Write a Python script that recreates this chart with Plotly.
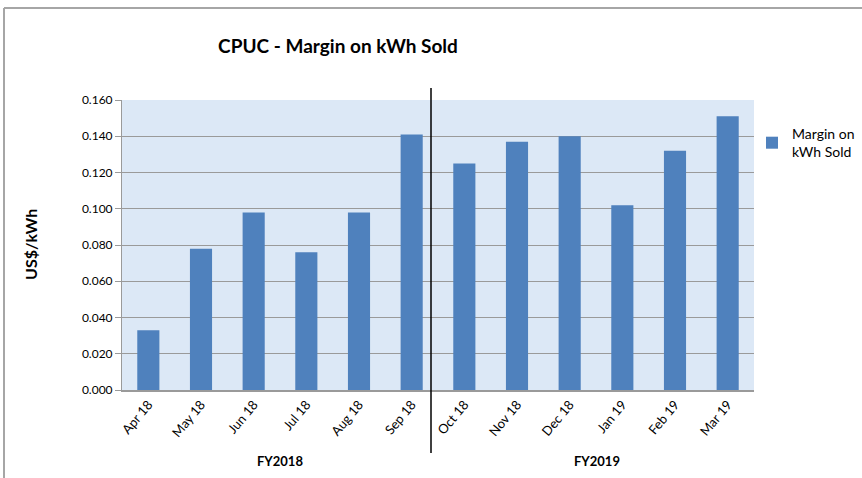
import plotly.graph_objects as go

months = ["Apr 18", "May 18", "Jun 18", "Jul 18", "Aug 18", "Sep 18",
          "Oct 18", "Nov 18", "Dec 18", "Jan 19", "Feb 19", "Mar 19"]
margin_values = [0.033, 0.078, 0.098, 0.076, 0.098, 0.141,
                 0.125, 0.137, 0.140, 0.102, 0.132, 0.151]
y_ticks = [0.0, 0.02, 0.04, 0.06, 0.08, 0.10, 0.12, 0.14, 0.16]
series_name = "Margin on<br>kWh Sold"
fy_labels = ["FY2018", "FY2019"]

W, H = 862, 478
L, R, T, B = 122, 108, 100, 88
pw, ph = W - L - R, H - T - B

def px_x(x):
    return (x - L) / pw

def px_y(y):
    return (H - B - y) / ph

fig = go.Figure()
fig.add_trace(go.Bar(
    x=months, y=margin_values, name=series_name,
    marker=dict(color="#4f81bd", line=dict(width=0)),
))

font_fam = "Lato, 'Open Sans', sans-serif"

fig.update_layout(
    width=W, height=H,
    margin=dict(l=L, r=R, t=T, b=B, autoexpand=False),
    paper_bgcolor="white",
    plot_bgcolor="#dce8f6",
    bargap=0.58,
    font=dict(family=font_fam, color="#000000", size=12),
    title=dict(text="<b>CPUC - Margin on kWh Sold</b>", x=338 / W, xanchor="center",
               y=1 - 46 / H, yanchor="middle", yref="container", xref="container",
               font=dict(size=19, family=font_fam)),
    showlegend=True,
    legend=dict(x=px_x(752), y=px_y(118), xanchor="left", yanchor="top",
                font=dict(size=14, family=font_fam), bgcolor="rgba(0,0,0,0)",
                itemwidth=30, tracegroupgap=0),
    xaxis=dict(showgrid=False, tickangle=-50, tickfont=dict(size=13),
               showline=True, linecolor="#9a9a9a", linewidth=2, ticks="",
               range=[-0.5, 11.5]),
    yaxis=dict(range=[0, 0.16], tickvals=y_ticks, tickformat=".3f",
               showgrid=True, gridcolor="#9a9a9a", gridwidth=1,
               ticks="outside", ticklen=6, tickcolor="#9a9a9a",
               showline=True, linecolor="#9a9a9a", linewidth=1,
               tickfont=dict(size=12), zeroline=False),
)

# y-axis title
fig.add_annotation(text="<b>US$/kWh</b>", xref="paper", yref="paper",
                   x=px_x(30), y=px_y(245), textangle=-90, showarrow=False,
                   font=dict(size=16, family=font_fam), xanchor="center", yanchor="middle")

# fiscal-year labels
for lbl, cx in zip(fy_labels, [280, 597]):
    fig.add_annotation(text=f"<b>{lbl}</b>", xref="paper", yref="paper",
                       x=px_x(cx), y=px_y(461), showarrow=False,
                       font=dict(size=13, family=font_fam), xanchor="center", yanchor="middle")

# divider line between fiscal years
fig.add_shape(type="line", xref="paper", yref="paper",
              x0=px_x(431), x1=px_x(431), y0=px_y(88), y1=px_y(453),
              line=dict(color="black", width=1.5))

# outer chart frame (top and left edges)
fig.add_shape(type="line", xref="paper", yref="paper",
              x0=px_x(4), x1=px_x(4), y0=px_y(8), y1=px_y(490),
              line=dict(color="#a6a6a6", width=2))
fig.add_shape(type="line", xref="paper", yref="paper",
              x0=px_x(4), x1=px_x(880), y0=px_y(8), y1=px_y(8),
              line=dict(color="#a6a6a6", width=2))

fig.write_html("out.html", config={"displayModeBar": False},
               post_script="document.body.style.margin='0px';")
